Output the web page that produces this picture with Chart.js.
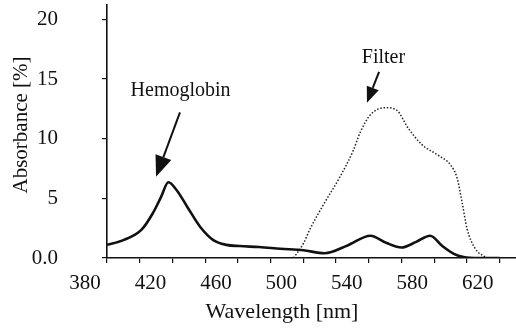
<!DOCTYPE html>
<html>
<head>
<meta charset="utf-8">
<script src="https://cdn.jsdelivr.net/npm/chart.js@4.4.1/dist/chart.umd.min.js"></script>
<style>
  body { margin: 0; background: #fff; }
</style>
</head>
<body>
<canvas id="spectra" width="516" height="329"></canvas>
<script>
const hemoWavelength = [380, 390, 401, 408, 413, 417.5, 422.5, 429, 437, 445, 453, 461, 473, 486, 500, 513, 527, 541, 551, 560, 569, 577.5, 585, 592, 598, 607, 620];
const hemoAbsorbance = [1.1, 1.5, 2.35, 3.75, 5.1, 6.35, 5.7, 4.3, 2.6, 1.5, 1.1, 1.0, 0.92, 0.78, 0.65, 0.4, 1.05, 1.87, 1.25, 0.88, 1.35, 1.87, 1.0, 0.35, 0.08, 0, 0];

const filterWavelength = [494, 500, 504, 512, 522, 530.5, 535, 541, 550, 557, 564, 572.5, 582.5, 590, 594, 597, 600, 605, 612];
const filterAbsorbance = [0, 1.2, 2.4, 4.4, 6.7, 9.0, 10.6, 12.0, 12.6, 12.4, 10.9, 9.5, 8.6, 7.8, 6.7, 4.7, 2.5, 0.8, 0];

const xTicks = [380, 400, 420, 440, 460, 480, 500, 520, 540, 560, 580, 600, 620];
const xLabelled = [380, 420, 460, 500, 540, 580, 620];
const yTicks = [0, 5, 10, 15, 20];

// arrows with their text, placed in data units
const notes = [
  { text: "Hemoglobin", at: [425, 14.0], from: [424.6, 12.2], to: [410, 6.8], head: 21 },
  { text: "Filter", at: [549, 16.8], from: [546.3, 15.6], to: [538.9, 13.0], head: 16 },
];

function toPoints(xs, ys) {
  return xs.map((x, i) => ({ x: x, y: ys[i] }));
}

function drawArrow(ctx, x1, y1, x2, y2, head) {
  const ang = Math.atan2(y2 - y1, x2 - x1);
  const bx = x2 - head * Math.cos(ang);
  const by = y2 - head * Math.sin(ang);
  ctx.lineWidth = 2;
  ctx.beginPath();
  ctx.moveTo(x1, y1);
  ctx.lineTo(bx, by);
  ctx.stroke();
  const w = head * 0.4;
  ctx.beginPath();
  ctx.moveTo(x2, y2);
  ctx.lineTo(bx + w * Math.sin(ang), by - w * Math.cos(ang));
  ctx.lineTo(bx - w * Math.sin(ang), by + w * Math.cos(ang));
  ctx.closePath();
  ctx.fill();
}

const overlay = {
  id: "overlay",
  afterDraw(chart) {
    const ctx = chart.ctx;
    const xs = chart.scales.x;
    const ys = chart.scales.y;
    const area = chart.chartArea;
    ctx.save();
    ctx.fillStyle = "#111";
    ctx.strokeStyle = "#111";
    ctx.textAlign = "center";
    ctx.textBaseline = "middle";
    ctx.font = "20px 'Liberation Serif'";
    notes.forEach((n) => {
      ctx.fillText(n.text, xs.getPixelForValue(n.at[0]), ys.getPixelForValue(n.at[1]));
      drawArrow(
        ctx,
        xs.getPixelForValue(n.from[0]), ys.getPixelForValue(n.from[1]),
        xs.getPixelForValue(n.to[0]), ys.getPixelForValue(n.to[1]),
        n.head
      );
    });

    // axis titles sit off-centre in the original
    ctx.textBaseline = "alphabetic";
    ctx.font = "22px 'Liberation Serif'";
    ctx.fillText("Wavelength [nm]", area.left + 175, 318);
    ctx.font = "21px 'Liberation Serif'";
    ctx.translate(27, 125);
    ctx.rotate(-Math.PI / 2);
    ctx.fillText("Absorbance [%]", 0, 0);
    ctx.restore();
  },
};

new Chart("spectra", {
  type: "line",
  data: {
    datasets: [
      {
        data: toPoints(hemoWavelength, hemoAbsorbance),
        borderColor: "#111",
        borderWidth: 2.6,
        pointRadius: 0,
        cubicInterpolationMode: "monotone",
        fill: false,
      },
      {
        data: toPoints(filterWavelength, filterAbsorbance),
        borderColor: "#222",
        borderWidth: 1.5,
        borderDash: [1.5, 1.8],
        pointRadius: 0,
        cubicInterpolationMode: "monotone",
        fill: false,
      },
    ],
  },
  options: {
    responsive: false,
    animation: false,
    layout: { padding: { top: 5, left: 0, right: 0, bottom: 0 } },
    plugins: { legend: { display: false }, tooltip: { enabled: false } },
    scales: {
      x: {
        type: "linear",
        min: 380,
        max: 630,
        border: { display: true, color: "#111", width: 1.6 },
        grid: { drawOnChartArea: false, tickLength: 5, color: "#111", lineWidth: 1.2 },
        afterBuildTicks: (axis) => {
          axis.ticks = xTicks.map((v) => ({ value: v }));
        },
        afterFit: (axis) => {
          axis.height = 71;
          axis.paddingLeft = 0;
          axis.paddingRight = 0;
        },
        ticks: {
          autoSkip: false,
          maxRotation: 0,
          padding: 8,
          labelOffset: -22,
          color: "#111",
          font: { family: "'Liberation Serif'", size: 21 },
          callback: (v) => (xLabelled.includes(v) ? String(v) : ""),
        },
      },
      y: {
        min: 0,
        max: 21.2,
        border: { display: true, color: "#111", width: 1.6 },
        grid: { drawOnChartArea: false, tickLength: 5, color: "#111", lineWidth: 1.2 },
        afterBuildTicks: (axis) => {
          axis.ticks = yTicks.map((v) => ({ value: v }));
        },
        afterFit: (axis) => {
          axis.width = 107;
          axis.paddingTop = 0;
          axis.paddingBottom = 0;
        },
        ticks: {
          padding: 44,
          color: "#111",
          font: { family: "'Liberation Serif'", size: 21 },
          callback: (v) => (v === 0 ? "0.0" : String(v)),
        },
      },
    },
  },
  plugins: [overlay],
});
</script>
</body>
</html>
